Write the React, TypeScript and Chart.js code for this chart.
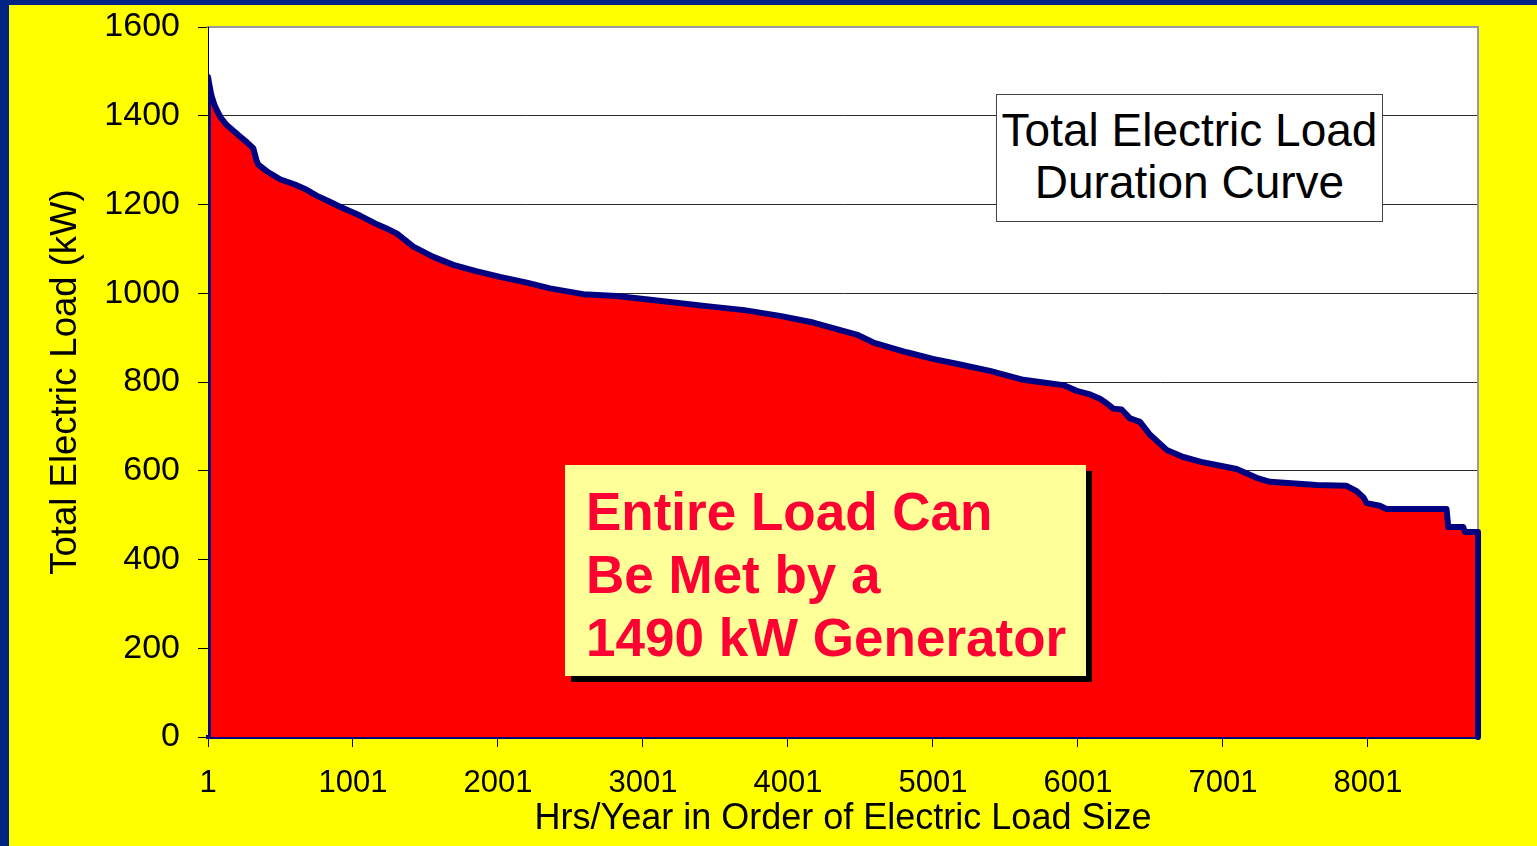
import React, { useEffect, useRef } from 'react';
import { Chart, registerables } from 'chart.js';

Chart.register(...registerables);

// ---- data ----
const hours: number[] = [
  1, 10, 25, 45, 61, 90, 130, 180, 222, 270, 313, 335, 348, 406, 498, 600, 682, 750, 830, 911,
  1049, 1150, 1233, 1302, 1417, 1555, 1693, 1850, 2015, 2200, 2360, 2589, 2819, 3037, 3440, 3700,
  3946, 4175, 4475, 4590, 4820, 5000, 5164, 5394, 5624, 5800, 5900, 5992, 6084, 6153, 6199, 6245,
  6302, 6360, 6429, 6498, 6613, 6727, 6850, 6957, 7095, 7233, 7325, 7647, 7854, 7923, 7970, 7992,
  8083, 8129, 8543, 8555, 8658, 8670, 8760,
];
const loadKW: number[] = [
  1488, 1470, 1445, 1425, 1413, 1395, 1379, 1365, 1353, 1340, 1327, 1300, 1290, 1275, 1257, 1245, 1233, 1220, 1208, 1195,
  1175, 1158, 1146, 1135, 1105, 1082, 1064, 1050, 1037, 1024, 1011, 998, 994, 986, 971, 962,
  949, 934, 907, 889, 867, 852, 841, 825, 805, 797, 793, 780, 772, 762, 752, 740,
  738, 718, 710, 681, 647, 631, 620, 613, 604, 584, 575, 568, 566, 554, 540, 527,
  521, 514, 514, 473, 473, 462, 462,
];
const xTickValues: number[] = [1, 1001, 2001, 3001, 4001, 5001, 6001, 7001, 8001];
const xFaintValues: number[] = [1, 501, 1001, 1501, 2001, 2501, 3001, 3501, 4001, 4501, 5001, 5501, 6001, 6501, 7001, 7501, 8001, 8501];
const yTickValues: number[] = [0, 200, 400, 600, 800, 1000, 1200, 1400, 1600];
const xMin = 1;
const xMax = 8760;
const yMin = 0;
const yMax = 1600;

const xTitle = 'Hrs/Year in Order of Electric Load Size';
const yTitle = 'Total Electric Load (kW)';
const chartTitleLines = ['Total Electric Load', 'Duration Curve'];
const noteLines = ['Entire Load Can', 'Be Met by a', '1490 kW Generator'];

// ---- styles ----
const NAVY = '#002484';
const YELLOW = '#FFFF00';
const FONT = '"Liberation Sans", Arial, Helvetica, sans-serif';
const FAINT = 'rgba(255,255,255,0.16)';

const plotBg = {
  id: 'plotBg',
  beforeDraw(chart: any) {
    const { ctx, chartArea: a } = chart;
    ctx.save();
    ctx.fillStyle = '#FFFFFF';
    ctx.fillRect(a.left, a.top, a.right - a.left, a.bottom - a.top);
    ctx.restore();
  },
};

export default function App() {
  const ref = useRef<HTMLCanvasElement>(null);

  useEffect(() => {
    document.body.style.margin = '0';
    Chart.defaults.font.family = FONT;
    const pts = [
      { x: hours[0], y: 0 },
      ...hours.map((h, i) => ({ x: h, y: loadKW[i] })),
      { x: hours[hours.length - 1], y: 0 },
    ];
    const chart = new Chart(ref.current as HTMLCanvasElement, {
      type: 'line',
      data: {
        datasets: [
          {
            data: pts,
            xAxisID: 'x',
            yAxisID: 'y',
            fill: 'origin',
            backgroundColor: '#FF0000',
            borderColor: '#000080',
            borderWidth: 6,
            borderJoinStyle: 'round',
            pointRadius: 0,
            tension: 0,
            clip: { left: 0, top: 0, right: 5, bottom: 5 } as any,
          },
        ],
      },
      plugins: [plotBg],
      options: {
        responsive: false,
        animation: false,
        devicePixelRatio: 1,
        layout: { padding: { left: 0, top: 22, right: 59, bottom: 0 } },
        plugins: { legend: { display: false }, tooltip: { enabled: false }, title: { display: false } },
        scales: {
          x: {
            type: 'linear',
            position: 'bottom',
            min: xMin,
            max: xMax,
            z: 1,
            afterBuildTicks: (s: any) => {
              s.ticks = xTickValues.map((v) => ({ value: v }));
            },
            afterFit: (s: any) => {
              s.height = 109;
              s.paddingLeft = 0;
              s.paddingRight = 0;
            },
            ticks: {
              color: '#000',
              font: { size: 31 },
              padding: 18,
              maxRotation: 0,
              autoSkip: false,
              callback: (v: any) => String(v),
            },
            grid: { drawOnChartArea: false, drawTicks: true, tickLength: 10, tickColor: '#000', color: '#000' },
            border: { display: true, color: '#000080', width: 4 },
            title: { display: true, text: xTitle, color: '#000', font: { size: 36 }, padding: { top: 0, bottom: 5 } },
          },
          xF: {
            type: 'linear',
            position: 'top',
            min: xMin,
            max: xMax,
            z: 1,
            afterBuildTicks: (s: any) => {
              s.ticks = xFaintValues.map((v) => ({ value: v }));
            },
            afterFit: (s: any) => {
              s.height = 0;
            },
            ticks: { display: false },
            grid: { drawOnChartArea: true, drawTicks: false, color: FAINT, lineWidth: 1 },
            border: { display: true, color: '#9A9A9A', width: 2 },
          },
          y: {
            type: 'linear',
            position: 'left',
            min: yMin,
            max: yMax,
            afterBuildTicks: (s: any) => {
              s.ticks = yTickValues.map((v) => ({ value: v }));
            },
            afterFit: (s: any) => {
              s.width = 199;
              s.paddingTop = 0;
              s.paddingBottom = 0;
            },
            ticks: { color: '#000', font: { size: 34 }, padding: 18, callback: (v: any) => String(v) },
            grid: { color: '#000', lineWidth: 1, drawTicks: true, tickLength: 10, tickColor: '#000' },
            border: { display: true, color: '#000', width: 1 },
            title: { display: true, text: yTitle, color: '#000', font: { size: 36.5 }, padding: { top: 35, bottom: 0 } },
          },
          yR: {
            type: 'linear',
            position: 'right',
            min: yMin,
            max: yMax,
            afterFit: (s: any) => {
              s.width = 0;
              s.paddingTop = 0;
              s.paddingBottom = 0;
            },
            ticks: { display: false },
            grid: { display: false },
            border: { display: true, color: '#9A9A9A', width: 2 },
          },
          yF: {
            type: 'linear',
            position: 'right',
            min: yMin,
            max: yMax,
            z: 1,
            afterBuildTicks: (s: any) => {
              s.ticks = yTickValues.map((v) => ({ value: v }));
            },
            afterFit: (s: any) => {
              s.width = 0;
              s.paddingTop = 0;
              s.paddingBottom = 0;
            },
            ticks: { display: false },
            grid: { drawOnChartArea: true, drawTicks: false, color: FAINT, lineWidth: 1 },
            border: { display: false },
          },
        },
      } as any,
    });
    return () => chart.destroy();
  }, []);

  return (
    <div style={{ position: 'fixed', left: 0, top: 0, width: 1537, height: 846, background: NAVY, overflow: 'hidden' }}>
      <div style={{ position: 'absolute', left: 9, top: 5, width: 1528, height: 841, background: YELLOW }}>
        <canvas ref={ref} width={1528} height={841} style={{ display: 'block', width: 1528, height: 841 }} />
      </div>
      <div
        style={{
          position: 'absolute',
          left: 996,
          top: 94,
          width: 387,
          height: 128,
          boxSizing: 'border-box',
          background: '#FFFFFF',
          border: '1px solid #444',
          fontFamily: FONT,
          fontSize: 46,
          lineHeight: '52px',
          textAlign: 'center',
          color: '#000',
          paddingTop: 9,
          whiteSpace: 'nowrap',
        }}
      >
        {chartTitleLines.map((t) => (
          <div key={t}>{t}</div>
        ))}
      </div>
      <div
        style={{
          position: 'absolute',
          left: 565,
          top: 465,
          width: 521,
          height: 211,
          boxSizing: 'border-box',
          background: '#FFFF99',
          boxShadow: '6px 6px 0 #000',
          fontFamily: FONT,
          fontWeight: 'bold',
          fontSize: 53,
          lineHeight: '63px',
          color: '#FF0033',
          paddingTop: 15,
          paddingLeft: 21,
          whiteSpace: 'nowrap',
        }}
      >
        {noteLines.map((t) => (
          <div key={t}>{t}</div>
        ))}
      </div>
    </div>
  );
}
